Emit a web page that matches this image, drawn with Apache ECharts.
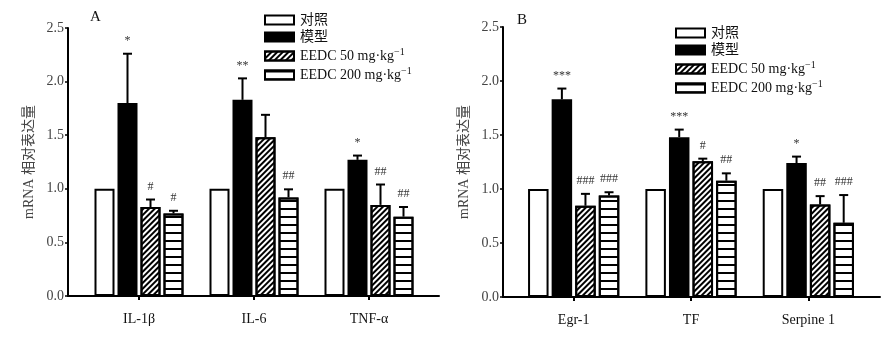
<!DOCTYPE html>
<html><head><meta charset="utf-8">
<script src="https://cdn.jsdelivr.net/npm/echarts@6/dist/echarts.min.js"></script>
<style>html,body{margin:0;padding:0;background:#fff}#c{width:885px;height:338px}</style>
</head><body><div id="c"></div>
<script>
// ---------- data ----------
const seriesNames = ['对照', '模型', 'EEDC 50 mg·kg', 'EEDC 200 mg·kg'];
const yTicks = [0, 0.5, 1.0, 1.5, 2.0, 2.5];

const catsA = ['IL-1β', 'IL-6', 'TNF-α'];
const ctrlA  = [1.00, 1.00, 1.00];
const modelA = [1.80, 1.83, 1.27];
const e50A   = [0.83, 1.48, 0.85];
const e200A  = [0.77, 0.92, 0.74];
const errModelA = [0.46, 0.20, 0.04];
const err50A    = [0.07, 0.21, 0.19];
const err200A   = [0.025, 0.075, 0.09];
const sigModelA = ['*', '**', '*'];
const sig50A    = ['#', '', '##'];
const sig200A   = ['#', '##', '##'];

const catsB = ['Egr-1', 'TF', 'Serpine 1'];
const ctrlB  = [1.00, 1.00, 1.00];
const modelB = [1.83, 1.48, 1.24];
const e50B   = [0.845, 1.256, 0.857];
const e200B  = [0.94, 1.077, 0.687];
const errModelB = [0.10, 0.07, 0.06];
const err50B    = [0.11, 0.025, 0.077];
const err200B   = [0.03, 0.068, 0.257];
const sigModelB = ['***', '***', '*'];
const sig50B    = ['###', '#', '##'];
const sig200B   = ['###', '##', '###'];

// ---------- styles ----------
const SERIF = "'Liberation Serif', 'Times New Roman', 'Noto Sans CJK SC', serif";
const styles = [
  { color: '#fff', borderColor: '#000', borderWidth: 2 },
  { color: '#000', borderColor: '#000', borderWidth: 2 },
  { color: '#fff', borderColor: '#000', borderWidth: 2,
    decal: { symbol: 'rect', symbolSize: 1, dashArrayX: [1, 0], dashArrayY: [1.5, 1.5], rotation: -Math.PI / 4, color: '#000' } },
  { color: '#fff', borderColor: '#000', borderWidth: 2,
    decal: { symbol: 'rect', symbolSize: 1, dashArrayX: [1, 0], dashArrayY: [2, 6], rotation: 0, color: '#000' } }
];

function panel(p) {
  const gA = p.idx * 2, gB = p.idx * 2 + 1;
  const step = p.barWidth * 1.15;
  const grids = [
    Object.assign({}, p.axisGrid),
    Object.assign({}, p.barGrid)
  ];
  const xAxes = [
    { type: 'value', gridIndex: gA, min: 0, max: 1, axisLine: { show: true, lineStyle: { color: '#000', width: 2 } },
      axisTick: { show: false }, axisLabel: { show: false }, splitLine: { show: false } },
    { type: 'category', gridIndex: gB, data: p.cats, axisLine: { show: false },
      axisTick: { show: true, alignWithLabel: true, length: 4, lineStyle: { color: '#000', width: 2 } },
      axisLabel: { margin: 16, fontFamily: SERIF, fontSize: 14, color: '#111' }, splitLine: { show: false } }
  ];
  const yAxes = [
    { type: 'value', gridIndex: gA, min: 0, max: 2.5, interval: 0.5,
      axisLine: { show: true, lineStyle: { color: '#000', width: 2 } },
      axisTick: { show: true, inside: false, length: 3, lineStyle: { color: '#000', width: 1.5 } },
      axisLabel: { margin: 4, fontFamily: SERIF, fontSize: 14, color: '#444', formatter: v => v.toFixed(1) },
      splitLine: { show: false },
      name: 'mRNA 相对表达量', nameLocation: 'middle', nameGap: 32, nameRotate: 90,
      nameTextStyle: { fontFamily: SERIF, fontSize: 14, color: '#444' } },
    { type: 'value', gridIndex: gB, min: 0, max: 2.5, interval: 0.5, show: false }
  ];
  const series = [];
  for (let k = 0; k < 4; k++) {
    series.push({
      type: 'bar', name: seriesNames[k], xAxisIndex: gB, yAxisIndex: gB,
      data: p.vals[k], barWidth: p.barWidth, barGap: '15%',
      itemStyle: styles[k], emphasis: { disabled: true }, z: 2
    });
  }
  const ebData = [], ebSig = [];
  for (let k = 0; k < 4; k++) {
    for (let c = 0; c < 3; c++) {
      ebData.push([c, k, p.vals[k][c], p.errs[k] ? p.errs[k][c] : 0]);
      ebSig.push(p.sigs[k] ? p.sigs[k][c] : '');
    }
  }
  series.push({
    type: 'custom', xAxisIndex: gB, yAxisIndex: gB, z: 5, silent: true,
    encode: { x: 0, y: 2 },
    data: ebData,
    renderItem: function (params, api) {
      const c = api.value(0), k = api.value(1), v = api.value(2), e = api.value(3);
      const cx = api.coord([c, 0])[0] + (k - 1.5) * step;
      const yT = api.coord([c, v])[1];
      const yE = api.coord([c, v + e])[1];
      const ch = [];
      if (e > 0) {
        ch.push({ type: 'line', shape: { x1: cx, y1: yT, x2: cx, y2: yE }, style: { stroke: '#000', lineWidth: 2 } });
        ch.push({ type: 'line', shape: { x1: cx - 4.5, y1: yE, x2: cx + 4.5, y2: yE }, style: { stroke: '#000', lineWidth: 2 } });
      }
      const s = ebSig[params.dataIndex];
      if (s) {
        ch.push({ type: 'text', style: { text: s, x: cx, y: yE - 7, align: 'center', verticalAlign: 'bottom',
          font: "12px " + SERIF, fill: '#333' } });
      }
      return { type: 'group', children: ch };
    }
  });
  return { grids, xAxes, yAxes, series };
}

const pA = panel({ idx: 0, axisGrid: { left: 68, top: 28, width: 371, height: 268 },
  barGrid: { left: 81.5, top: 28, width: 345, height: 268 }, cats: catsA, barWidth: 20,
  vals: [ctrlA, modelA, e50A, e200A], errs: [null, errModelA, err50A, err200A], sigs: [null, sigModelA, sig50A, sig200A] });
const pB = panel({ idx: 1, axisGrid: { left: 503, top: 27, width: 377, height: 270 },
  barGrid: { left: 515, top: 27, width: 352, height: 270 }, cats: catsB, barWidth: 20.5,
  vals: [ctrlB, modelB, e50B, e200B], errs: [null, errModelB, err50B, err200B], sigs: [null, sigModelB, sig50B, sig200B] });

function legendFmt(name) { return name.indexOf('EEDC') === 0 ? name + '{sup|−1}' : name; }
function legend(left, top) {
  return { left: left, top: top, orient: 'vertical', data: seriesNames, icon: 'rect',
    itemWidth: 29, itemHeight: 9, itemGap: 3, selectedMode: false, formatter: legendFmt,
    textStyle: { fontFamily: SERIF, fontSize: 14, color: '#111', padding: [0, 0, 0, 1],
      rich: { sup: { fontFamily: SERIF, fontSize: 10, color: '#111', padding: [0, 0, 8, 0] } } } };
}

const chart = echarts.init(document.getElementById('c'), null, { renderer: 'canvas' });
chart.setOption({
  animation: false,
  backgroundColor: '#fff',
  title: [
    { text: 'A', left: 85, top: 5, textStyle: { fontFamily: SERIF, fontSize: 15, fontWeight: 'normal', color: '#111' } },
    { text: 'B', left: 512, top: 8, textStyle: { fontFamily: SERIF, fontSize: 15, fontWeight: 'normal', color: '#111' } }
  ],
  legend: [legend(259, 8), legend(670, 21)],
  grid: pA.grids.concat(pB.grids),
  xAxis: pA.xAxes.concat(pB.xAxes),
  yAxis: pA.yAxes.concat(pB.yAxes),
  series: pA.series.concat(pB.series)
});
</script></body></html>
